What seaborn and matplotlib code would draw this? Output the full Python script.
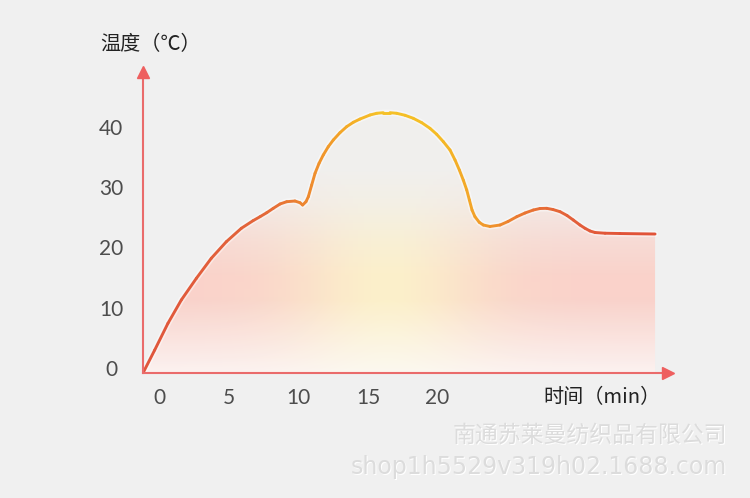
import numpy as np
import pandas as pd
import matplotlib
matplotlib.use("Agg")
import matplotlib.pyplot as plt
from matplotlib.colors import LinearSegmentedColormap
from matplotlib.patches import PathPatch
from matplotlib.transforms import ScaledTranslation
import seaborn as sns

# Heating curve (minutes, deg C)
time_min = [0.00, 0.84, 1.79, 2.75, 3.83, 4.90, 5.98, 7.06, 7.90, 8.40,
            8.88, 9.35, 9.84, 10.32, 10.91, 11.27, 11.46, 11.70, 11.87, 12.11,
            12.35, 12.64, 12.94, 13.30, 13.66, 14.14, 14.62, 15.10, 15.58, 16.30,
            16.78, 17.25, 17.73, 18.21, 18.81, 19.40, 20.01, 20.60, 21.08, 21.56,
            22.04, 22.40, 22.71, 22.99, 23.24, 23.43, 23.62, 23.83, 24.14, 24.43,
            24.91, 25.63, 26.20, 26.83, 27.42, 28.02, 28.50, 28.98, 29.43, 29.94,
            30.44, 30.89, 31.37, 31.73, 32.09, 32.45, 33.17, 34.24, 36.76]
temp_c = [0.00, 3.81, 8.24, 12.11, 15.70, 19.02, 21.77, 24.00, 25.26, 25.92,
          26.58, 27.31, 28.03, 28.41, 28.52, 28.24, 27.86, 28.41, 29.24, 31.18,
          33.12, 34.78, 36.15, 37.53, 38.64, 39.85, 40.85, 41.58, 42.12, 42.79,
          43.07, 43.17, 43.17, 43.07, 42.74, 42.24, 41.51, 40.58, 39.59, 38.36,
          36.98, 35.32, 33.67, 32.01, 30.35, 28.69, 27.03, 25.92, 24.99, 24.54,
          24.30, 24.54, 25.12, 25.92, 26.53, 27.03, 27.28, 27.31, 27.11, 26.75,
          26.12, 25.37, 24.54, 24.00, 23.55, 23.30, 23.18, 23.13, 23.05]

x_ticks = [0, 5, 10, 15, 20]
y_ticks = [0, 10, 20, 30, 40]
x_title = "时间（min）"
y_title = "温度（℃）"
watermark = ["南通苏莱曼纺织品有限公司", "shop1h5529v319h02.1688.com"]

# line colour goes red -> yellow (peak) -> red along the time axis
line_stops = [0, 8.5, 12, 15, 17, 21, 24, 27, 31, 36.76]
line_colors = ["#e0553c", "#e3663a", "#ee8a2e", "#f4ae26", "#f5c128",
               "#f5bd24", "#f2a12a", "#ea7a32", "#e35e3a", "#e05038"]

sns.set_theme(style="white")
cjk = ["Noto Sans CJK SC", "DejaVu Sans"]
plt.rcParams["font.family"] = cjk

W, H = 750, 498
X0, Y0 = 143, 373          # axis origin (px)
X_END, Y_END = 668, 72     # where the arrows sit (px)
PX_MIN, PX_DEG = 13.93, 6.03

fig = plt.figure(figsize=(W / 100, H / 100), dpi=100)
fig.patch.set_facecolor("#f0f0f0")
ax = fig.add_axes([X0 / W, 1 - Y0 / H, (X_END - X0) / W, (Y0 - Y_END) / H])
ax.set_facecolor("none")

t_end = time_min[-1]
T_top = 46

# soft glow under the curve: pink at the sides, pale yellow in the middle
tt = np.linspace(0, t_end, 400)
TT = np.linspace(0, T_top, 300)
Gt, GT = np.meshgrid(tt, TT)
wy = np.exp(-((Gt - 17.5) / 7.0) ** 2)
pink = np.array([252, 205, 196]) / 255
yellow = np.array([255, 240, 195]) / 255
base = pink * (1 - wy)[..., None] + yellow * wy[..., None]
wm = np.clip((12 - GT) / 12, 0, 1) * 0.75
rgb = base * (1 - wm[..., None]) + wm[..., None]
alpha = np.interp(GT, [0, 16, 22, 28, 34], [0.8, 0.85, 0.6, 0.25, 0.05])
rgba = np.dstack([rgb, alpha])

area = ax.fill_between(time_min, temp_c, 0, facecolor="none", edgecolor="none")
clip = PathPatch(area.get_paths()[0], transform=ax.transData,
                 facecolor="none", edgecolor="none")
ax.add_patch(clip)
im = ax.imshow(rgba, extent=[0, t_end, 0, T_top], origin="lower",
               aspect="auto", zorder=1, interpolation="bilinear")
im.set_clip_path(clip)

# white halo, then the gradient line built from short segments
sns.lineplot(x=time_min, y=temp_c, color="white", lw=4.5, alpha=0.45,
             sort=False, estimator=None, ax=ax, zorder=3)

cmap = LinearSegmentedColormap.from_list(
    "heat", list(zip(np.array(line_stops) / t_end, line_colors)))
rows = []
for k in range(len(time_min) - 1):
    for j in (k, k + 1):
        rows.append((time_min[j], temp_c[j], k))
seg = pd.DataFrame(rows, columns=["t", "T", "seg"])
pal = {k: cmap((time_min[k] + time_min[k + 1]) / 2 / t_end)
       for k in range(len(time_min) - 1)}
sns.lineplot(data=seg, x="t", y="T", hue="seg", palette=pal, legend=False,
             estimator=None, sort=False, lw=2.1, solid_capstyle="round",
             ax=ax, zorder=4)

ax.set_xlim(0, (X_END - X0) / PX_MIN)
ax.set_ylim(0, (Y0 - Y_END) / PX_DEG)

# axes with arrow heads
axis_col = "#ea6b6b"
for side in ["top", "right"]:
    ax.spines[side].set_visible(False)
for side in ["left", "bottom"]:
    ax.spines[side].set_color(axis_col)
    ax.spines[side].set_linewidth(1.5)
    ax.spines[side].set_zorder(5)
ax.plot(1, 0, ">", color="#ee5f5f", ms=8, transform=ax.get_yaxis_transform(),
        clip_on=False, zorder=6)
ax.plot(0, 1, "^", color="#ee5f5f", ms=8, transform=ax.get_xaxis_transform(),
        clip_on=False, zorder=6)

# ticks
tick_font = dict(family="Lato", fontsize=15, color="#4d4d4d")
ax.set_xticks(x_ticks, labels=[str(v) for v in x_ticks], va="center", **tick_font)
ax.set_yticks(y_ticks, labels=[str(v) for v in y_ticks], ha="center", **tick_font)
ax.tick_params(axis="x", length=0, pad=18)
ax.tick_params(axis="y", length=0, pad=23)
for lab in ax.get_xticklabels():
    lab.set_transform(lab.get_transform() + ScaledTranslation(0.16, 0, fig.dpi_scale_trans))
for lab in ax.get_yticklabels():
    lab.set_transform(lab.get_transform() + ScaledTranslation(0, 0.05, fig.dpi_scale_trans))
ax.grid(False)

# axis titles
ax.set_ylabel(y_title, rotation=0, ha="left", va="center", fontsize=14.5,
              color="#222222", family=cjk)
ax.yaxis.set_label_coords((100 - X0) / (X_END - X0), (Y0 - 45) / (Y0 - Y_END))
ax.set_xlabel(x_title, ha="left", va="center", fontsize=14.5,
              color="#222222", family=cjk)
ax.xaxis.set_label_coords((543 - X0) / (X_END - X0), (Y0 - 397) / (Y0 - Y_END))

# embossed watermark
shift = ScaledTranslation(0.01, -0.01, fig.dpi_scale_trans)
for txt, yy, fam, fs in [(watermark[0], 435, cjk, 16.5),
                         (watermark[1], 467, ["DejaVu Sans"], 17)]:
    fig.text(727 / W, 1 - yy / H, txt, ha="right", va="center", fontsize=fs,
             family=fam, color="white", transform=fig.transFigure + shift)
    fig.text(727 / W, 1 - yy / H, txt, ha="right", va="center", fontsize=fs,
             family=fam, color="#dcdcdc")

fig.savefig("out.png", dpi=100)
